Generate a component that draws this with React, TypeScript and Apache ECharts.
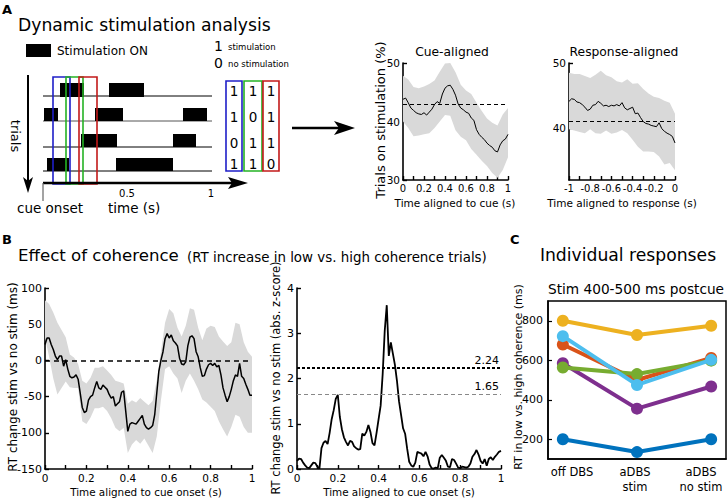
import React, { useEffect, useRef } from "react";
import * as echarts from "echarts";

const FONT = "DejaVu Sans";

function steps(start: number, step: number, n: number): number[] {
  return Array.from({ length: n }, (_, i) => +(start + i * step).toFixed(4));
}

// ---------- Panel A: cue-aligned ----------
const cueTimes = steps(0, 0.025, 41);
const cueMean = [43.8, 44.0, 43.2, 42.3, 41.9, 41.5, 41.3, 41.2, 41.5, 41.1, 41.6, 42.1, 42.9, 43.4, 43.1, 44.7, 45.7, 46.1, 46.2, 45.5, 44.5, 43.0, 42.3, 42.0, 41.6, 41.4, 40.6, 40.2, 38.6, 37.8, 37.3, 36.9, 36.3, 35.9, 35.6, 35.0, 34.8, 36.0, 36.7, 37.0, 37.8];
const cueBandTimes = steps(0, 0.05, 21);
const cueUpper = [47.8, 47.2, 45.9, 45.7, 46.0, 46.4, 47.0, 48.5, 49.9, 50.0, 48.4, 46.3, 45.3, 44.7, 43.2, 41.8, 40.5, 39.8, 39.3, 41.2, 42.3];
const cueLower = [40.0, 38.9, 37.5, 37.6, 37.8, 38.0, 38.9, 40.0, 41.1, 41.0, 38.5, 37.4, 36.8, 35.3, 34.3, 33.3, 32.4, 31.2, 30.4, 31.7, 33.9];
const cueBaseline = 43.0;

// ---------- Panel A: response-aligned ----------
const respTimes = steps(-1, 0.025, 41);
const respMean = [44.1, 44.5, 44.4, 44.0, 43.9, 43.6, 43.2, 42.7, 42.9, 43.5, 43.6, 44.1, 43.8, 43.4, 43.5, 43.3, 43.5, 43.4, 43.6, 43.4, 43.9, 43.1, 42.8, 43.0, 43.2, 42.2, 42.3, 41.6, 41.0, 40.7, 40.6, 40.4, 40.3, 40.2, 40.8, 39.9, 39.5, 39.2, 39.0, 38.7, 37.7];
const respBandTimes = steps(-1, 0.05, 21);
const respUpper = [48.5, 48.3, 48.3, 48.0, 47.7, 48.2, 48.8, 48.1, 47.8, 47.2, 47.0, 47.5, 46.8, 46.9, 46.0, 45.3, 44.8, 44.6, 44.2, 43.9, 42.2];
const respLower = [39.8, 39.6, 39.4, 39.2, 39.8, 39.2, 39.1, 39.6, 39.1, 39.3, 39.7, 39.2, 38.2, 37.1, 36.4, 36.4, 36.3, 35.6, 34.4, 34.6, 33.5];
const respBaseline = 41.1;

// ---------- Panel B ----------
const cohTimes = steps(0, 0.01, 101);
const cohMean = [
  22, 31, 31, 22, 15, 6, 1, 6, 6, -8,
  1, -12, -22, -24, -23, -20, -26, -45, -65, -72,
  -70, -55, -50, -48, -38, -29, -38, -40, -34, -37,
  -40, -47, -52, -50, -63, -60, -57, -44, -42, -70,
  -98, -88, -86, -87, -88, -84, -80, -76, -88, -93,
  -95, -93, -90, -75, -45, -15, 0, 12, 30, 37,
  31, 35, 27, 24, 20, 3, -5, -6, -2, 20,
  32, 34, 30, 12, 5, -10, -22, -21, -12, -6,
  -4, -7, -4, -9, -7, -20, -38, -48, -57, -50,
  -40, -28, -20, -22, -4, -22, -25, -33, -40, -48,
  -48,
];
const cohBandTimes = steps(0, 0.02, 51);
const cohUpper = [83, 78, 66, 52, 42, 32, 8, 4, -5, -28, -32, -24, -10, -10, -8, -14, -20, -28, -30, -32, -60, -55, -58, -52, -57, -62, -56, -27, 12, 52, 71, 65, 45, 33, 48, 72, 70, 45, 28, 44, 48, 46, 33, 26, 20, 25, 52, 50, 25, 12, 5];
const cohLower = [31, 5, -25, -47, -38, -29, -37, -38, -38, -84, -88, -79, -66, -66, -64, -70, -80, -93, -98, -93, -128, -116, -110, -115, -108, -118, -128, -105, -55, -12, -8, -18, -25, -45, -28, -18, -28, -40, -54, -58, -64, -70, -84, -95, -105, -92, -75, -78, -92, -100, -100];
const zScore = [
  0.18, 0.23, 0.22, 0.14, 0.08, 0.03, 0.02, 0.08, 0.14, 0.13,
  0.05, 0.01, 0.46, 0.58, 0.62, 0.55, 0.80, 1.10, 1.30, 1.55,
  1.64, 1.15, 0.88, 0.70, 0.60, 0.52, 0.62, 0.60, 0.50, 0.46,
  0.43, 0.44, 0.78, 0.74, 0.82, 0.97, 0.82, 0.57, 0.52, 0.80,
  1.10, 1.40, 2.10, 3.05, 3.62, 2.50, 2.80, 2.55, 2.30, 1.95,
  1.50, 1.20, 0.90, 0.78, 0.45, 0.16, 0.08, 0.05, 0.14, 0.38,
  0.36, 0.34, 0.28, 0.38, 0.28, 0.10, 0.02, 0.01, 0.03, 0.02,
  0.25, 0.31, 0.25, 0.18, 0.05, 0.04, 0.22, 0.20, 0.12, 0.03,
  0.02, 0.05, 0.04, 0.03, 0.05, 0.12, 0.27, 0.33, 0.42, 0.32,
  0.18, 0.12, 0.22, 0.07, 0.22, 0.26, 0.20, 0.27, 0.32, 0.38,
  0.40,
];
const zThresholdHigh = 2.24;
const zThresholdLow = 1.65;

// ---------- Panel C ----------
const conditions = ["off DBS", "aDBS\nstim", "aDBS\nno stim"];
const conditionPos = [1, 2, 3];
const conditionLabelX = [572, 635, 701];
const rtBlue = [200, 135, 200];
const rtOrange = [680, 500, 612];
const rtYellow = [800, 728, 775];
const rtPurple = [585, 355, 467];
const rtGreen = [563, 530, 598];
const rtLightBlue = [722, 475, 602];
const subjectColors = ["#0072BD", "#D95319", "#EDB120", "#7E2F8E", "#77AC30", "#4DBEEE"];
const cTicks = [200, 400, 600, 800];

const pairs = (t: number[], v: number[]) => t.map((x, i) => [x, v[i]]);
const fmt = (v: number) => String(Math.round(v * 10) / 10);

function band(xi: number, times: number[], upper: number[], lower: number[]) {
  return {
    type: "custom",
    xAxisIndex: xi,
    yAxisIndex: xi,
    silent: true,
    z: 1,
    data: [[times[0], lower[0]]],
    renderItem: (_p: any, api: any) => {
      const pts: number[][] = [];
      for (let i = 0; i < times.length; i++) pts.push(api.coord([times[i], upper[i]]));
      for (let i = times.length - 1; i >= 0; i--) pts.push(api.coord([times[i], lower[i]]));
      return { type: "polygon", shape: { points: pts }, style: { fill: "#d9d9d9" } };
    },
  };
}

function axis(gridIndex: number, min: number, max: number, interval: number | undefined, fontSize: number, extra: any = {}) {
  const a: any = {
    type: "value",
    gridIndex,
    min,
    max,
    axisLine: { show: true, onZero: false, lineStyle: { color: "#000", width: 1.6 } },
    axisTick: { show: true, inside: true, length: 4, lineStyle: { color: "#000", width: 1.4 } },
    axisLabel: { color: "#000", fontSize, fontFamily: FONT, margin: 3, formatter: fmt },
    splitLine: { show: false },
  };
  if (interval !== undefined) a.interval = interval;
  return { ...a, ...extra };
}

const minor = { show: true, splitNumber: 2, length: 4, lineStyle: { color: "#000", width: 1.4 } };

function T(x: number, y: number, text: string, size: number, o: any = {}) {
  return {
    type: "text",
    x,
    y,
    rotation: o.rot || 0,
    silent: true,
    style: {
      text,
      fontSize: size,
      fontFamily: FONT,
      fontWeight: o.bold ? "bold" : "normal",
      fill: o.fill || "#000",
      align: o.align || "left",
      verticalAlign: o.va || "middle",
      lineHeight: o.lh,
    },
  };
}
function R(x1: number, y1: number, x2: number, y2: number) {
  return { type: "rect", silent: true, shape: { x: x1, y: y1, width: x2 - x1, height: y2 - y1 }, style: { fill: "#000" } };
}
function B(x1: number, y1: number, x2: number, y2: number, stroke: string) {
  return { type: "rect", silent: true, shape: { x: x1, y: y1, width: x2 - x1, height: y2 - y1 }, style: { fill: "none", stroke, lineWidth: 1.6 } };
}
function L(x1: number, y1: number, x2: number, y2: number, stroke: string, w: number) {
  return { type: "line", silent: true, shape: { x1, y1, x2, y2 }, style: { stroke, lineWidth: w } };
}
function P(points: number[][]) {
  return { type: "polygon", silent: true, shape: { points }, style: { fill: "#000" } };
}

const BLUE = "#1f1fc8";
const GREEN = "#25b225";
const RED = "#c21a1a";

function buildGraphics() {
  const g: any[] = [];
  // Panel A header
  g.push(T(2, 9, "A", 13, { bold: true }));
  g.push(T(18, 25, "Dynamic stimulation analysis", 17.2));
  g.push(R(26, 44, 51, 57));
  g.push(T(57, 51, "Stimulation ON", 12));
  g.push(T(214, 46, "1", 14));
  g.push(T(228, 47, "stimulation", 8.5));
  g.push(T(214, 63, "0", 14));
  g.push(T(228, 64, "no stimulation", 8.5));
  // trial rows
  [96, 121, 147, 171].forEach((y, i) => g.push(L(43, y, 212, y, i === 1 ? "#555" : "#000", 1)));
  g.push(R(60, 83, 84, 97), R(109, 83, 144, 97));
  g.push(R(44, 108, 58, 121), R(95, 108, 123, 121), R(183, 108, 207, 121));
  g.push(R(81, 134, 117, 147), R(173, 134, 196, 147));
  g.push(R(47, 158, 69, 171), R(116, 158, 173, 171));
  // window boxes
  g.push(B(53, 77, 70, 184, BLUE), B(66, 77, 83, 184, GREEN), B(79, 77, 97, 184, RED));
  // time axis
  g.push(L(43, 183, 232, 183, "#000", 2.5));
  g.push(P([[228, 177], [248, 183], [228, 189], [232, 183]]));
  g.push(L(43, 183, 43, 201, "#666", 1.2));
  g.push(T(127, 193, "0.5", 10, { align: "center" }));
  g.push(T(211, 193, "1", 10, { align: "center" }));
  g.push(T(17, 208, "cue onset", 13.5));
  g.push(T(108, 208, "time (s)", 13.5));
  // trials arrow
  g.push(L(28, 75, 28, 182, "#000", 2));
  g.push(P([[23, 177], [28, 193], [33, 177], [28, 181]]));
  g.push(T(15, 136, "trials", 13, { align: "center", rot: -Math.PI / 2 }));
  // matrix
  g.push(B(226, 81, 242, 171, BLUE), B(244, 81, 262, 171, GREEN), B(263, 81, 279, 171, RED));
  const mat = [["1", "1", "1"], ["1", "0", "1"], ["0", "1", "1"], ["1", "1", "0"]];
  const rowsY = [91, 117, 143, 164];
  const colsX = [234, 253, 271];
  mat.forEach((row, r) => row.forEach((s, c) => g.push(T(colsX[c], rowsY[r], s, 13.5, { align: "center" }))));
  // big arrow
  g.push(L(292, 128, 340, 128, "#000", 2.5));
  g.push(P([[334, 121], [355, 128], [334, 135], [339, 128]]));
  // titles panel A right
  g.push(T(452, 52, "Cue-aligned", 12.3, { align: "center" }));
  g.push(T(624, 52, "Response-aligned", 12.3, { align: "center" }));
  g.push(T(380, 120, "Trials on stimulation (%)", 13, { align: "center", rot: Math.PI / 2 }));
  g.push(T(455, 203, "Time aligned to cue (s)", 10.5, { align: "center" }));
  g.push(T(622, 203, "Time aligned to response (s)", 10.5, { align: "center" }));

  // Panel B
  g.push(T(2, 239, "B", 13, { bold: true }));
  g.push(T(18, 255, "Effect of coherence", 16.6));
  g.push(T(187, 257, "(RT increase in low vs. high coherence trials)", 13.4));
  g.push(T(13, 377, "RT change stim vs no stim (ms)", 12, { align: "center", rot: Math.PI / 2 }));
  g.push(T(276, 378, "RT change stim vs no stim (abs. z-score)", 11.5, { align: "center", rot: Math.PI / 2 }));
  g.push(T(146, 492, "Time aligned to cue onset (s)", 10.4, { align: "center" }));
  g.push(T(399, 492, "Time aligned to cue onset (s)", 10.4, { align: "center" }));

  // Panel C
  g.push(T(510, 239, "C", 13, { bold: true }));
  g.push(T(628, 255, "Individual responses", 17.2, { align: "center" }));
  g.push(T(636, 289, "Stim 400-500 ms postcue", 13.7, { align: "center" }));
  g.push(T(518, 377, "RT in low vs. high coherence (ms)", 11, { align: "center", rot: Math.PI / 2 }));
  conditions.forEach((c, i) => g.push(T(conditionLabelX[i], 464, c, 11.5, { align: "center", va: "top", lh: 15 })));
  return g;
}

export default function App() {
  const ref = useRef<HTMLDivElement>(null);
  useEffect(() => {
    if (!ref.current) return;
    const chart = echarts.init(ref.current, undefined, { renderer: "svg" });
    const rtSeries = [rtBlue, rtOrange, rtYellow, rtPurple, rtGreen, rtLightBlue].map((vals, i) => ({
      type: "line",
      xAxisIndex: 4,
      yAxisIndex: 4,
      data: pairs(conditionPos, vals),
      symbol: "circle",
      symbolSize: 12,
      lineStyle: { color: subjectColors[i], width: 4 },
      itemStyle: { color: subjectColors[i] },
      z: 3 + i,
    }));
    const dashed = (v: number, color: string, width: number, type: any) => ({
      silent: true,
      symbol: "none",
      animation: false,
      label: { show: false },
      data: [{ yAxis: v, lineStyle: { color, width, type } }],
    });
    const option: any = {
      animation: false,
      grid: [
        { left: 403, top: 63, width: 105, height: 117 },
        { left: 569, top: 63, width: 106, height: 117 },
        { left: 45, top: 288, width: 207, height: 181 },
        { left: 297, top: 288, width: 204, height: 181 },
        { left: 548, top: 301, width: 178, height: 158, show: true, borderColor: "#000", borderWidth: 1.5, backgroundColor: "transparent" },
      ],
      xAxis: [
        axis(0, 0, 1, 0.2, 10, { minorTick: minor }),
        axis(1, -1, 0, 0.2, 10, { minorTick: minor }),
        axis(2, 0, 1, 0.2, 10.5, { minorTick: minor }),
        axis(3, 0, 1, 0.2, 10.5, { minorTick: minor }),
        axis(4, 0.8, 3.2, undefined, 11, {
          axisTick: { show: false },
          axisLabel: { show: false },
        }),
      ],
      yAxis: [
        axis(0, 30, 50, 10, 10.5),
        axis(1, 32, 50, undefined, 10.5, {
          axisTick: { show: true, inside: true, length: 4, customValues: [40, 50], lineStyle: { color: "#000", width: 1.4 } },
          axisLabel: { color: "#000", fontSize: 10.5, fontFamily: FONT, margin: 3, customValues: [40, 50], formatter: fmt },
        }),
        axis(2, -150, 100, 50, 11),
        axis(3, 0, 4, 1, 11),
        axis(4, 100, 900, undefined, 11, {
          axisTick: { show: true, inside: true, length: 4, customValues: cTicks, lineStyle: { color: "#000", width: 1.2 } },
          axisLabel: { color: "#000", fontSize: 11, fontFamily: FONT, margin: 5, customValues: cTicks, formatter: fmt },
          axisLine: { show: true, onZero: false, lineStyle: { color: "#000", width: 1.5 } },
        }),
      ],
      series: [
        band(0, cueBandTimes, cueUpper, cueLower),
        {
          type: "line", xAxisIndex: 0, yAxisIndex: 0, data: pairs(cueTimes, cueMean), showSymbol: false, symbol: "none",
          lineStyle: { color: "#000", width: 1 }, z: 3,
          markLine: dashed(cueBaseline, "#000", 1, [4, 3]),
        },
        band(1, respBandTimes, respUpper, respLower),
        {
          type: "line", xAxisIndex: 1, yAxisIndex: 1, data: pairs(respTimes, respMean), showSymbol: false, symbol: "none",
          lineStyle: { color: "#000", width: 1 }, z: 3,
          markLine: dashed(respBaseline, "#000", 1, [4, 3]),
        },
        band(2, cohBandTimes, cohUpper, cohLower),
        {
          type: "line", xAxisIndex: 2, yAxisIndex: 2, data: pairs(cohTimes, cohMean), showSymbol: false, symbol: "none",
          lineStyle: { color: "#000", width: 1.5 }, z: 3,
          markLine: dashed(0, "#000", 1.5, [5, 4]),
        },
        {
          type: "line", xAxisIndex: 3, yAxisIndex: 3, data: pairs(cohTimes, zScore), showSymbol: false, symbol: "none",
          lineStyle: { color: "#000", width: 1.8 }, z: 3,
          markLine: {
            silent: true,
            symbol: "none",
            animation: false,
            data: [
              {
                yAxis: zThresholdHigh,
                lineStyle: { color: "#000", width: 2, type: [3, 2] },
                label: { show: true, position: "insideEndTop", formatter: String(zThresholdHigh), color: "#000", fontSize: 11, fontFamily: FONT, distance: 2 },
              },
              {
                yAxis: zThresholdLow,
                lineStyle: { color: "#888", width: 1, type: [4, 3] },
                label: { show: true, position: "insideEndTop", formatter: String(zThresholdLow), color: "#000", fontSize: 11, fontFamily: FONT, distance: 2 },
              },
            ],
          },
        },
        ...rtSeries,
      ],
      graphic: { elements: buildGraphics() },
    };
    chart.setOption(option);
    return () => chart.dispose();
  }, []);
  return <div ref={ref} style={{ position: "fixed", left: 0, top: 0, width: 727, height: 503, background: "#fff" }} />;
}
